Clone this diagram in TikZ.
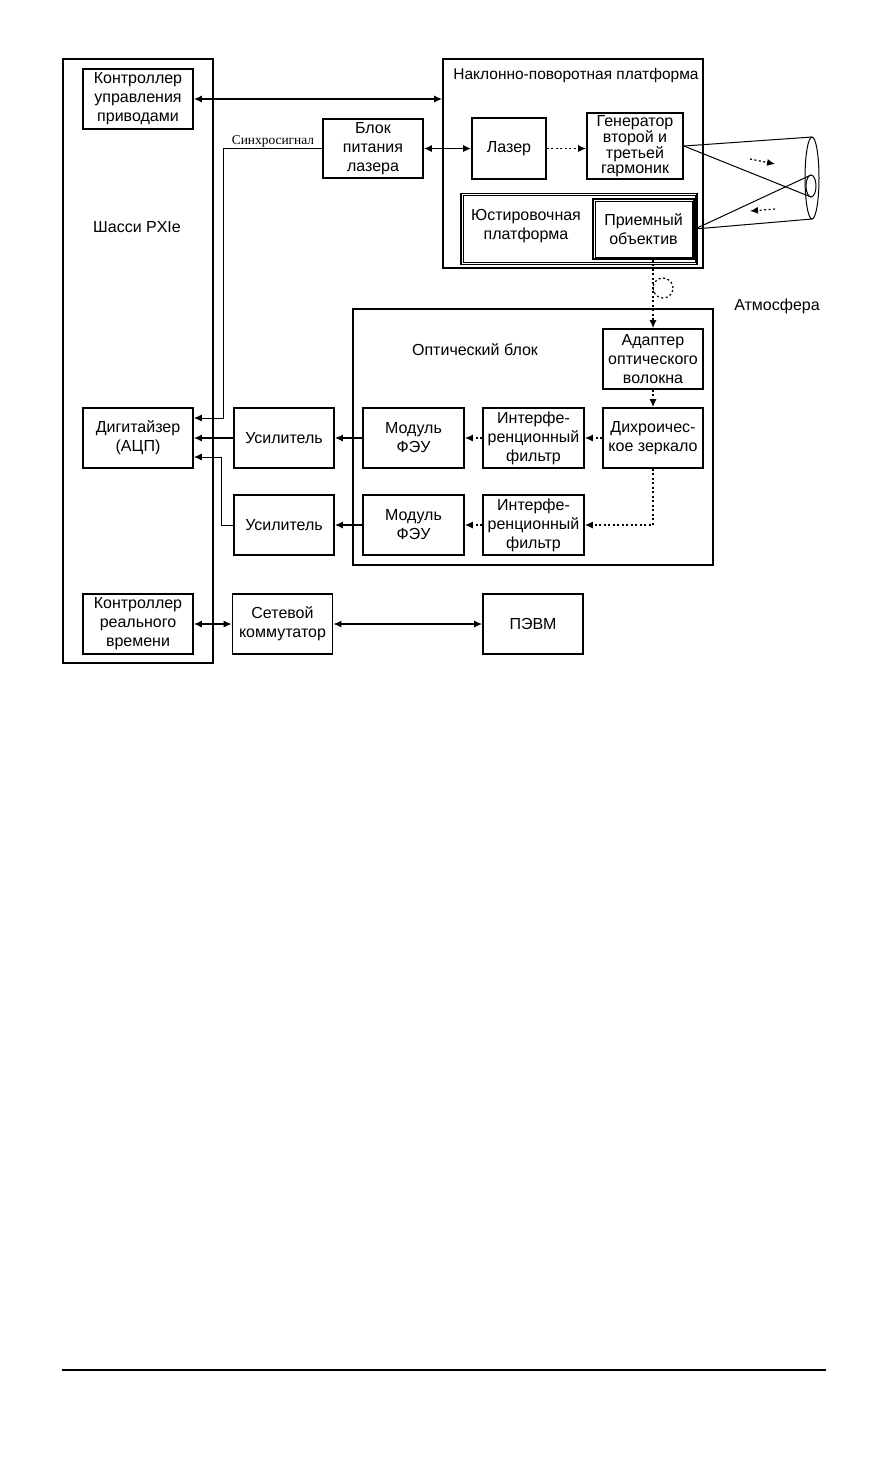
\documentclass[tikz,border=0pt]{standalone}
\usepackage{fontspec}
\setmainfont{Liberation Sans}
\newfontfamily\serifshrift{Liberation Serif}
\usepackage{tikz}
\usetikzlibrary{arrows.meta}

\begin{document}
\begin{tikzpicture}[x=1pt,y=-1pt,
        blok/.style={draw,line width=1.8pt,inner sep=0pt,align=center,
            minimum width=100pt,minimum height=60pt,font=\fontsize{16}{19}\selectfont},
        vnutr/.style={line width=0.8pt},
        nadpis/.style={inner sep=0pt,align=center,font=\fontsize{16}{19}\selectfont},
        svyaz/.style={line width=1.2pt,-{Latex[length=8pt,width=7pt]}},
        dvusvyaz/.style={line width=1.2pt,{Latex[length=8pt,width=7pt]}-{Latex[length=8pt,width=7pt]}},
        puntir/.style={svyaz,dash pattern=on 2pt off 2.5pt},
        luch/.style={line width=1pt}]
        \useasboundingbox (0,0) rectangle (886,1460);

        % shassi PXIe
        \node[blok,minimum width=150pt,minimum height=604pt] (shassi) at (138,361) {};
        \node[nadpis] (shassiname) at (137,227) {Шасси PXIe};
        \node[blok,minimum width=110pt] (privody) at (138,99) {Контроллер\\управления\\приводами};
        \node[blok,minimum width=110pt] (digit) at (138,438) {Дигитайзер\\(АЦП)};
        \node[blok,minimum width=110pt] (realtime) at (138,624) {Контроллер\\реального\\времени};

        % platforma
        \node[blok,minimum width=260pt,minimum height=209pt] (platforma) at (573,163.5) {};
        \node[nadpis,font=\fontsize{15.5}{19}\selectfont] (platname) at (576,75) {Наклонно-поворотная платформа};
        \node[blok,minimum height=59pt] (pitanie) at (373,148.5) {Блок\\питания\\лазера};
        \node[blok,minimum width=74pt,minimum height=61pt] (lazer) at (509,148.5) {Лазер};
        \node[blok,minimum width=96pt,minimum height=66pt,font=\fontsize{16}{14.5}\selectfont] (garm) at (635,146) {Генератор\\второй и\\третьей\\гармоник};
        \node[blok,minimum width=236pt,minimum height=71pt] (yust) at (579,229) {};
        \draw[vnutr] ([xshift=3pt,yshift=-3pt]yust.north west) rectangle ([xshift=-3pt,yshift=3pt]yust.south east);
        \node[nadpis] (yustname) at (526,226) {Юстировочная\\платформа};
        \node[blok,minimum width=101pt] (obektiv) at (643.5,229) {Приемный\\объектив};
        \draw[vnutr] ([xshift=3pt,yshift=-3pt]obektiv.north west) rectangle ([xshift=-3pt,yshift=3pt]obektiv.south east);

        % opticheskiy blok
        \node[blok,minimum width=360pt,minimum height=256pt] (optblok) at (533,437) {};
        \node[nadpis] (optname) at (475,350) {Оптический блок};
        \node[blok] (adapter) at (653,359) {Адаптер\\оптического\\волокна};
        \node[blok] (zerkalo) at (653,438) {Дихроичес-\\кое зеркало};
        \node[blok,minimum width=101pt] (filtr1) at (533.5,438) {Интерфе-\\ренционный\\фильтр};
        \node[blok,minimum width=101pt] (feu1) at (413.5,438) {Модуль\\ФЭУ};
        \node[blok,minimum width=101pt] (filtr2) at (533.5,525) {Интерфе-\\ренционный\\фильтр};
        \node[blok,minimum width=101pt] (feu2) at (413.5,525) {Модуль\\ФЭУ};

        \node[blok] (usil1) at (284,438) {Усилитель};
        \node[blok] (usil2) at (284,525) {Усилитель};
        \node[blok] (kommutator) at (282.5,624) {Сетевой\\коммутатор};
        \node[blok] (pevm) at (533,624) {ПЭВМ};
        \node[nadpis] (atm) at (777,306) {Атмосфера};
        \node[inner sep=0pt,font=\serifshrift\fontsize{13.4}{15}\selectfont] (sinhrotext) at (273,141) {Синхросигнал};

        \coordinate (sinhro) at (223,418);
        \coordinate (usilugol) at (221,457);
        \coordinate (konusverh) at (812,137);
        \coordinate (konusniz) at (812,219);
        \coordinate (malverh) at (811,175);
        \coordinate (malniz) at (811,197);
        \coordinate (tudaA) at (750,159);
        \coordinate (tudaB) at (775,164);
        \coordinate (obratnoA) at (775,209);
        \coordinate (obratnoB) at (750,211);

        \draw[dvusvyaz] (privody.east) -- (privody.east -| platforma.west);
        \draw[dvusvyaz] (pitanie.east) -- (lazer.west);
        \draw[puntir] (lazer.east) -- (lazer.east -| garm.west);
        \draw[svyaz,line width=1pt] (pitanie.west) -| (sinhro) -- (sinhro -| digit.east);
        \draw[svyaz] (usil1.west) -- (usil1.west -| digit.east);
        \draw[svyaz,line width=1pt] (usil2.west) -| (usilugol) -- (usilugol -| digit.east);
        \draw[svyaz] (feu1.west) -- (usil1.east);
        \draw[svyaz] (feu2.west) -- (usil2.east);
        \draw[puntir] (filtr1.west) -- (feu1.east);
        \draw[puntir] (filtr2.west) -- (feu2.east);
        \draw[puntir] (zerkalo.west) -- (filtr1.east);
        \draw[puntir] (zerkalo.south) |- (filtr2.east);
        \draw[puntir] (adapter.south) -- (zerkalo.north);
        \draw[puntir] (adapter.north |- obektiv.south) -- (adapter.north);
        \draw[dash pattern=on 2pt off 2.5pt,line width=1.2pt] (663,288) circle (10pt);
        \draw[dvusvyaz] (realtime.east) -- (kommutator.west);
        \draw[dvusvyaz] (kommutator.east) -- (pevm.west);

        % konus atmosfery
        \draw[luch] (812,178) ellipse [x radius=7pt,y radius=41pt];
        \draw[luch] (811,186) ellipse [x radius=5pt,y radius=11pt];
        \draw[luch] (garm.east) -- (konusverh);
        \draw[luch] (garm.east) -- (malniz);
        \draw[luch] (obektiv.east) -- (konusniz);
        \draw[luch] (obektiv.east) -- (malverh);
        \draw[puntir] (tudaA) -- (tudaB);
        \draw[puntir] (obratnoA) -- (obratnoB);

        \draw[line width=2pt] (62,1370) -- (826,1370);
    \end{tikzpicture}
\end{document}
